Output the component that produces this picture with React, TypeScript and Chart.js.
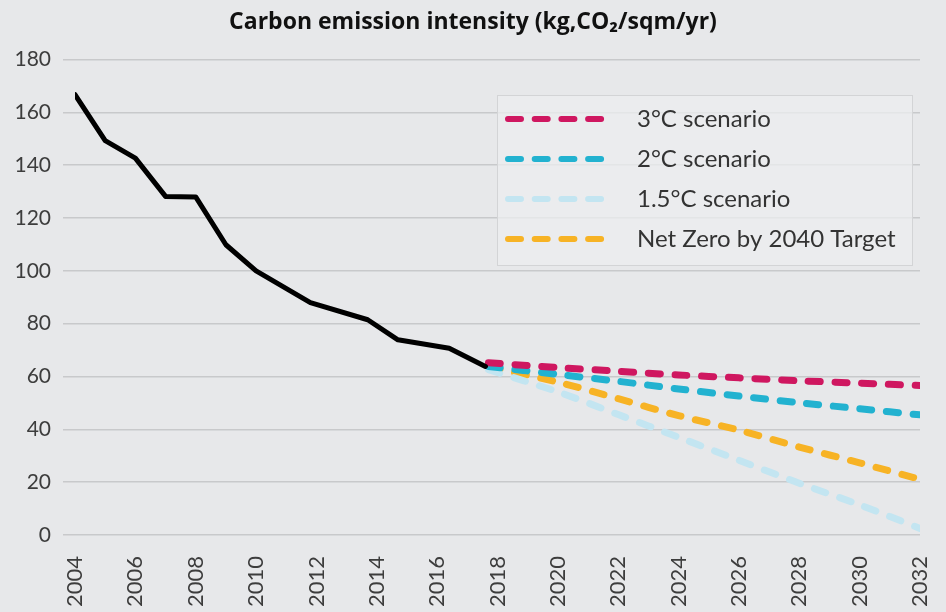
import React, { useEffect, useRef } from "react";
import { Chart, registerables } from "chart.js";

Chart.register(...registerables);

const titleText = "Carbon emission intensity (kg,CO\u2082/sqm/yr)";

const historyYears = [2004, 2005, 2006, 2007, 2008, 2009, 2010, 2011.8, 2013.7, 2014.7, 2016.4, 2017.6];
const historyValues = [166.7, 149.3, 142.7, 128.2, 128.0, 109.9, 100.0, 88.0, 81.5, 73.9, 70.7, 63.8];

const scenarioYears = [2017.7, 2020, 2022, 2024, 2026, 2028, 2030, 2032];
const threeDegree = [65.2, 63.4, 62.0, 60.6, 59.5, 58.4, 57.5, 56.6];
const twoDegree = [63.8, 60.8, 58.2, 55.3, 52.6, 50.1, 47.8, 45.5];
const onePointFive = [62.6, 54.2, 45.6, 37.0, 28.3, 19.6, 11.4, 2.5];
const netZero2040 = [63.6, 57.9, 51.6, 45.2, 39.7, 33.3, 27.3, 21.1];

const seriesLabels = ["3\u00B0C scenario", "2\u00B0C scenario", "1.5\u00B0C scenario", "Net Zero by 2040 Target"];
const seriesColors = ["#cf1760", "#22b2d0", "#c3e5f1", "#f7b325"];

const xTickYears = [2004, 2006, 2008, 2010, 2012, 2014, 2016, 2018, 2020, 2022, 2024, 2026, 2028, 2030, 2032];
const yTickValues = [0, 20, 40, 60, 80, 100, 120, 140, 160, 180];

const FONT = "Lato, 'Open Sans', sans-serif";
const TITLE_FONT = "'Open Sans', Lato, sans-serif";
const BG = "#e7e8ea";

const toPoints = (xs: number[], ys: number[]) => xs.map((x, i) => ({ x, y: ys[i] }));

const legendPlugin = {
  id: "boxLegend",
  afterDraw(chart: any) {
    const ctx = chart.ctx;
    const bx = 497, by = 95, bw = 415, bh = 170;
    ctx.save();
    ctx.fillStyle = "rgba(236,237,239,0.75)";
    ctx.fillRect(bx, by, bw, bh);
    ctx.strokeStyle = "#d3d4d6";
    ctx.lineWidth = 1;
    ctx.strokeRect(bx + 0.5, by + 0.5, bw, bh);
    const items = chart.data.datasets.filter((d: any) => d.inLegend);
    items.forEach((d: any, i: number) => {
      const cy = 119 + i * 40;
      ctx.beginPath();
      ctx.setLineDash([13, 13.7]);
      ctx.lineCap = "round";
      ctx.lineWidth = 6;
      ctx.strokeStyle = d.borderColor;
      ctx.moveTo(508, cy);
      ctx.lineTo(602, cy);
      ctx.stroke();
      ctx.setLineDash([]);
      ctx.fillStyle = "#333";
      ctx.font = `24px ${FONT}`;
      ctx.textBaseline = "middle";
      ctx.textAlign = "left";
      ctx.fillText(d.label, 637, cy);
    });
    ctx.restore();
  },
};

export default function App() {
  const ref = useRef<HTMLCanvasElement | null>(null);

  useEffect(() => {
    document.body.style.margin = "0";
    document.body.style.background = BG;
    const canvas = ref.current;
    if (!canvas) return;
    const scenarioSeries = [threeDegree, twoDegree, onePointFive, netZero2040];
    const chart = new Chart(canvas, {
      type: "line",
      data: {
        datasets: [
          {
            label: "Historic",
            data: toPoints(historyYears, historyValues),
            borderColor: "#000",
            borderWidth: 5,
            pointRadius: 0,
            borderJoinStyle: "round",
            borderCapStyle: "round",
            tension: 0,
          } as any,
          ...scenarioSeries.map((vals, i) => ({
            label: seriesLabels[i],
            data: toPoints(scenarioYears, vals),
            borderColor: seriesColors[i],
            borderWidth: 7,
            borderDash: [12, 14.7],
            borderCapStyle: "round",
            pointRadius: 0,
            tension: 0.3,
            inLegend: true,
          })),
        ],
      },
      options: {
        responsive: false,
        animation: false,
        events: [],
        layout: { padding: { left: 0, right: 0, top: 0, bottom: 0 } },
        plugins: {
          legend: { display: false },
          tooltip: { enabled: false },
          title: {
            display: true,
            text: titleText,
            color: "#111",
            font: { family: TITLE_FONT, size: 23, weight: "bold" },
            padding: { top: 9, bottom: 23 },
          },
        },
        scales: {
          x: {
            type: "linear",
            min: 2004,
            max: 2032,
            afterBuildTicks: (scale: any) => {
              scale.ticks = xTickYears.map((v) => ({ value: v }));
            },
            afterFit: (scale: any) => {
              scale.height = 77;
              scale.paddingLeft = 0;
              scale.paddingRight = 26;
            },
            grid: { display: false, drawTicks: false },
            border: { display: false },
            ticks: {
              minRotation: 90,
              maxRotation: 90,
              padding: 21,
              color: "#3d3d3d",
              font: { family: FONT, size: 22 },
              callback: (v: any) => String(v),
            },
          },
          y: {
            min: 0,
            max: 180,
            afterBuildTicks: (scale: any) => {
              scale.ticks = yTickValues.map((v) => ({ value: v }));
            },
            afterFit: (scale: any) => {
              scale.width = 75;
            },
            grid: { color: "#c8c9cb", lineWidth: 1.5, drawTicks: true, tickLength: 12, tickColor: "#c8c9cb" },
            border: { display: false },
            ticks: {
              padding: 12,
              color: "#3d3d3d",
              font: { family: FONT, size: 21 },
              callback: (v: any) => String(v),
            },
          },
        },
      },
      plugins: [legendPlugin],
    } as any);
    return () => chart.destroy();
  }, []);

  return (
    <div style={{ width: 946, height: 612, background: BG }}>
      <canvas ref={ref} width={946} height={612} />
    </div>
  );
}
